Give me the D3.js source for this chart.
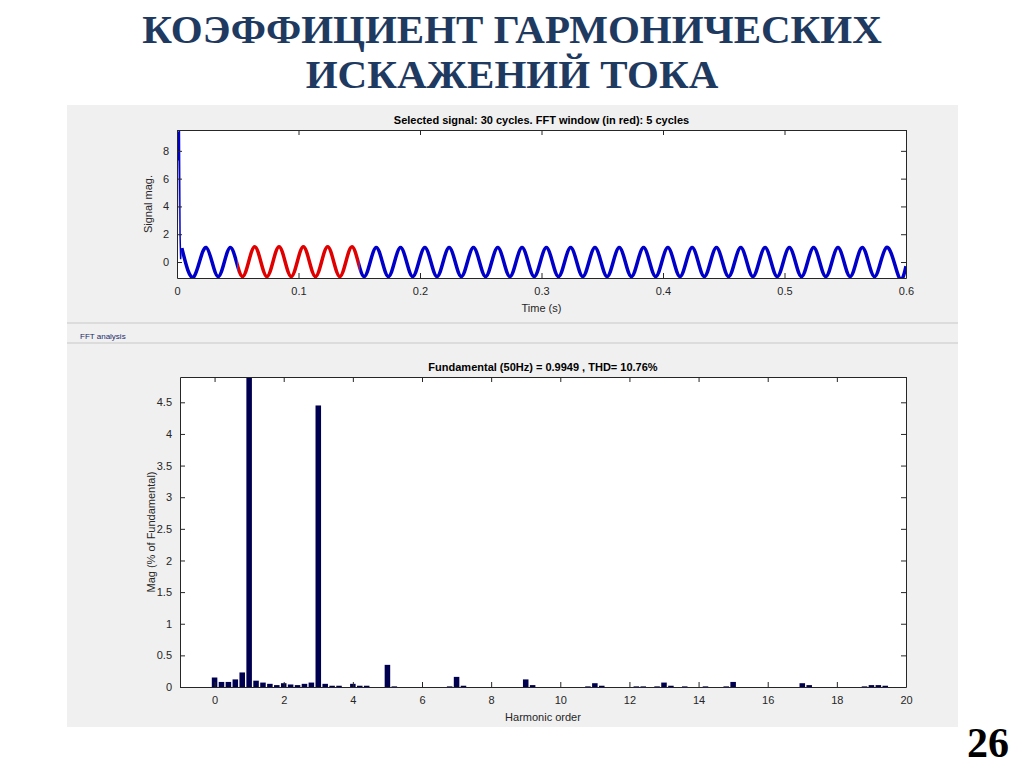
<!DOCTYPE html>
<html><head><meta charset="utf-8">
<script src="https://cdnjs.cloudflare.com/ajax/libs/d3/7.8.5/d3.min.js"></script>
<style>body{margin:0;background:#fff}svg{display:block}</style>
</head><body>
<script>
// ---- data ----
const titleLines = ["КОЭФФИЦИЕНТ ГАРМОНИЧЕСКИХ", "ИСКАЖЕНИЙ ТОКА"];
const topTitle = "Selected signal: 30 cycles. FFT window (in red): 5 cycles";
const bottomTitle = "Fundamental (50Hz) = 0.9949 , THD= 10.76%";
const timeTicks = [0, 0.1, 0.2, 0.3, 0.4, 0.5, 0.6];
const sigTicks = [0, 2, 4, 6, 8];
const harmTicks = [0, 2, 4, 6, 8, 10, 12, 14, 16, 18, 20];
const magTicks = [0, 0.5, 1, 1.5, 2, 2.5, 3, 3.5, 4, 4.5];
// inrush spike at the start (time, value)
const spikeT = [0, 0.0008, 0.0015, 0.002, 0.0025, 0.003, 0.0035];
const spikeV = [0, 9.4, 7.3, 9.5, 2.0, 0.2, 1.0];
// per-cycle extremes (cycle k: peak at 0.004+0.02k, trough at 0.014+0.02k)
const cyclePeaks = [1.0,1.05,1.05,1.1,1.1,1.1,1.1,1.1,1.05,1.05,1.05,1.05,1.05,1.05,1.05,1.05,1.05,1.05,1.05,1.05,1.05,1.05,1.05,1.05,1.05,1.05,1.05,1.05,1.05,1.05];
const cycleTroughs = [-1.05,-1.05,-1.05,-1.05,-1.05,-1.05,-1.05,-1.05,-1.05,-1.05,-1.05,-1.05,-1.05,-1.05,-1.05,-1.05,-1.05,-1.05,-1.05,-1.05,-1.05,-1.05,-1.05,-1.05,-1.05,-1.05,-1.05,-1.05,-1.05,-1.05];
const fftWindow = [0.05, 0.15];
const harmOrder = [0,0.2,0.4,0.6,0.8,1,1.2,1.4,1.6,1.8,2,2.2,2.4,2.6,2.8,3,3.2,3.4,3.6,4,4.2,4.4,5,5.2,6.8,7,7.2,9,9.2,10.8,11,11.2,12.2,12.4,12.8,13,13.2,13.6,14.2,14.8,15,17,17.2,18.8,19,19.2,19.4];
const harmMag   = [0.15,0.08,0.08,0.12,0.23,4.9,0.1,0.07,0.05,0.03,0.06,0.04,0.03,0.05,0.07,4.45,0.05,0.02,0.02,0.05,0.02,0.02,0.35,0.01,0.01,0.16,0.02,0.12,0.03,0.01,0.06,0.02,0.01,0.01,0.01,0.07,0.02,0.01,0.01,0.01,0.08,0.06,0.03,0.01,0.03,0.03,0.02];

// ---- drawing ----
const W = 1024, H = 767;
const svg = d3.select("body").append("svg").attr("width", W).attr("height", H);
const serif = "'Liberation Serif','Times New Roman',serif";
const sans = "'Liberation Sans',Arial,sans-serif";
const navy = "#1f3a60";
titleLines.forEach((t, i) => svg.append("text").attr("x", 512).attr("y", 43 + i * 45)
  .attr("text-anchor", "middle").attr("font-family", serif).attr("font-weight", "bold")
  .attr("font-size", 41).attr("fill", navy).text(t));
svg.append("text").attr("x", 988).attr("y", 757).attr("text-anchor", "middle")
  .attr("font-family", serif).attr("font-weight", "bold").attr("font-size", 42).text("26");

svg.append("rect").attr("x", 67).attr("y", 105).attr("width", 891).attr("height", 622).attr("fill", "#f0f0f0");
svg.append("line").attr("x1", 67).attr("x2", 958).attr("y1", 323).attr("y2", 323).attr("stroke", "#c8c8c8");
svg.append("line").attr("x1", 67).attr("x2", 958).attr("y1", 343).attr("y2", 343).attr("stroke", "#c8c8c8");
svg.append("text").attr("x", 80).attr("y", 339).attr("font-family", sans).attr("font-size", 8).attr("fill", "#1a2a6a").text("FFT analysis");

function frame(x0, x1, y0, y1, title) {
  svg.append("rect").attr("x", x0).attr("y", y0).attr("width", x1 - x0).attr("height", y1 - y0).attr("fill", "#fff");
  svg.append("text").attr("x", (x0 + x1) / 2).attr("y", y0 - 6).attr("text-anchor", "middle")
    .attr("font-family", sans).attr("font-weight", "bold").attr("font-size", 11).text(title);
}
function axes(x, y, x0, x1, y0, y1, xt, yt, xl, yl) {
  const tl = 5, fmt = d3.format("");
  const ax = svg.append("g").attr("transform", `translate(0,${y1})`).call(d3.axisBottom(x).tickValues(xt).tickFormat(fmt).tickSizeInner(-tl).tickSizeOuter(0).tickPadding(9));
  const axt = svg.append("g").attr("transform", `translate(0,${y0})`).call(d3.axisTop(x).tickValues(xt).tickFormat("").tickSizeInner(-tl).tickSizeOuter(0));
  const ay = svg.append("g").attr("transform", `translate(${x0},0)`).call(d3.axisLeft(y).tickValues(yt).tickFormat(fmt).tickSizeInner(-tl).tickSizeOuter(0).tickPadding(8));
  const ayr = svg.append("g").attr("transform", `translate(${x1},0)`).call(d3.axisRight(y).tickValues(yt).tickFormat("").tickSizeInner(-tl).tickSizeOuter(0));
  [ax, axt, ay, ayr].forEach(g => { g.selectAll("path,line").attr("stroke", "#262626"); g.selectAll("text").attr("font-family", sans).attr("font-size", 11).attr("fill", "#262626"); });
  svg.append("text").attr("x", (x0 + x1) / 2).attr("y", y1 + 34).attr("text-anchor", "middle").attr("font-family", sans).attr("font-size", 11).attr("fill", "#262626").text(xl);
  svg.append("text").attr("transform", `translate(${x0 - 25},${(y0 + y1) / 2}) rotate(-90)`).attr("text-anchor", "middle").attr("font-family", sans).attr("font-size", 11).attr("fill", "#262626").text(yl);
}

// top plot
const T = { x0: 177, x1: 906, y0: 130, y1: 278 };
frame(T.x0, T.x1, T.y0, T.y1, topTitle);
const xT = d3.scaleLinear().domain([0, 0.6]).range([T.x0, T.x1]);
const yT = d3.scaleLinear().domain([-1.15, 9.5]).range([T.y1, T.y0]);
const pts = spikeT.map((t, i) => [t, spikeV[i]]);
cyclePeaks.forEach((p, k) => {
  const b = 0.02 * k;
  pts.push([b + 0.004, p], [b + 0.014, cycleTroughs[k]]);
});
pts.push([0.6, -0.3]);
svg.append("clipPath").attr("id", "c1").append("rect").attr("x", T.x0).attr("y", T.y0).attr("width", T.x1 - T.x0).attr("height", T.y1 - T.y0);
const line = d3.line().x(d => xT(d[0])).y(d => yT(d[1])).curve(d3.curveNatural);
const waveAll = pts.filter(d => d[0] > 0.0035);
const spike = pts.filter(d => d[0] <= 0.0035);
svg.append("path").attr("d", d3.line().x(d => xT(d[0])).y(d => yT(d[1]))(spike)).attr("fill", "none").attr("stroke", "#0000c8").attr("stroke-width", 1.5).attr("clip-path", "url(#c1)");
const g1 = svg.append("g").attr("clip-path", "url(#c1)");
[[0.0035, fftWindow[0], "#0000c8"], [fftWindow[0], fftWindow[1], "#e00000"], [fftWindow[1], 0.6, "#0000c8"]].forEach(([a, b, c], i) => {
  svg.append("clipPath").attr("id", "s" + i).append("rect").attr("x", xT(a)).attr("y", T.y0).attr("width", xT(b) - xT(a)).attr("height", T.y1 - T.y0);
  g1.append("g").attr("clip-path", `url(#s${i})`).append("path").attr("d", line(waveAll)).attr("fill", "none").attr("stroke", c).attr("stroke-width", 3.5);
});
axes(xT, yT, T.x0, T.x1, T.y0, T.y1, timeTicks, sigTicks, "Time (s)", "Signal mag.");

// bottom plot
const B = { x0: 180, x1: 906, y0: 377, y1: 687 };
frame(B.x0, B.x1, B.y0, B.y1, bottomTitle);
const xB = d3.scaleLinear().domain([-1, 20]).range([B.x0, B.x1]);
const yB = d3.scaleLinear().domain([0, 4.9]).range([B.y1, B.y0]);
const bw = (xB(0.2) - xB(0)) * 0.8;
svg.append("g").selectAll("rect").data(harmOrder).join("rect")
  .attr("x", d => xB(d) - bw / 2).attr("width", bw)
  .attr("y", (d, i) => yB(harmMag[i])).attr("height", (d, i) => yB(0) - yB(harmMag[i]))
  .attr("fill", "#000050");
axes(xB, yB, B.x0, B.x1, B.y0, B.y1, harmTicks, magTicks, "Harmonic order", "Mag (% of Fundamental)");
</script>
</body></html>
